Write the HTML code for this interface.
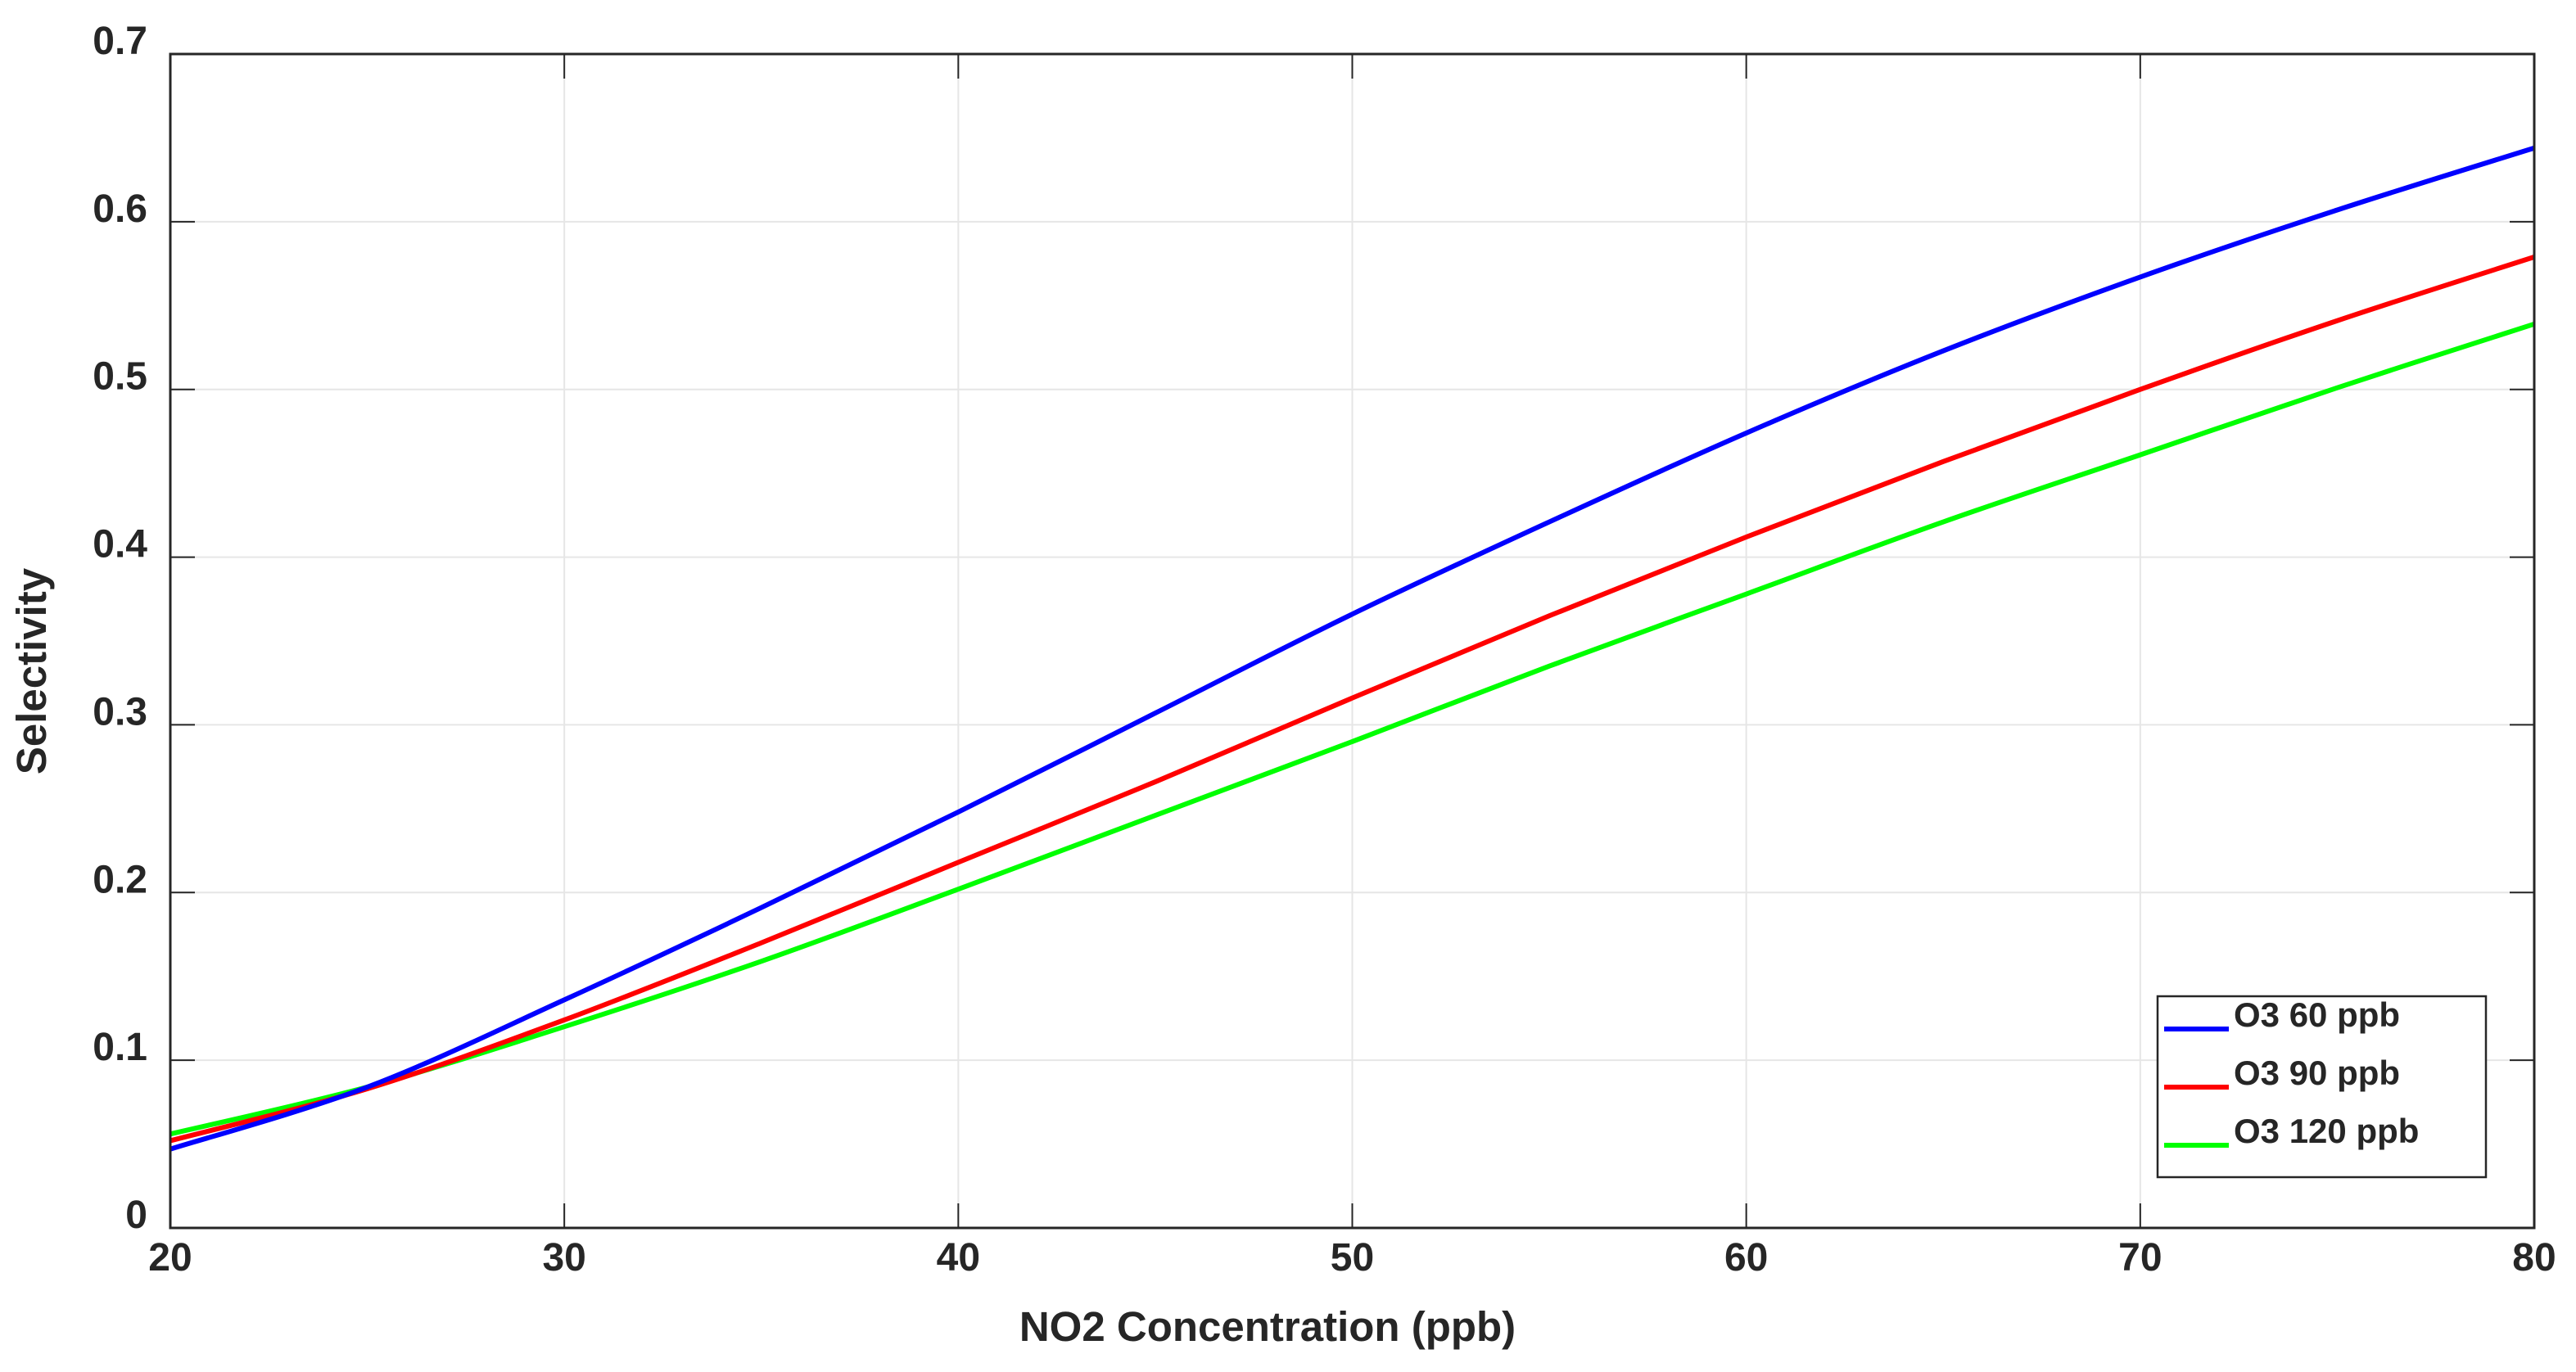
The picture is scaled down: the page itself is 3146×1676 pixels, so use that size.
<!DOCTYPE html>
<html><head><meta charset="utf-8">
<style>
html,body{margin:0;padding:0;background:#fff;}
svg{display:block;}
text{font-family:"Liberation Sans",Arial,sans-serif;font-weight:bold;fill:#262626;}
</style></head>
<body>
<svg id="chart" width="3146" height="1676" xmlns="http://www.w3.org/2000/svg">
<g id="grid"></g>
<g id="series"></g>
<g id="axes"></g>
<text x="1548" y="1638" font-size="51" text-anchor="middle">NO2 Concentration (ppb)</text>
<text transform="translate(56,820) rotate(-90)" font-size="51" text-anchor="middle">Selectivity</text>
<g id="legend"></g>
</svg>
<script>
const xValues = [20,25,30,35,40,45,50,55,60,65,70,75,80];
const blueValues = [0.047,0.084,0.136,0.191,0.248,0.307,0.366,0.421,0.474,0.523,0.567,0.607,0.644];
const redValues = [0.052,0.083,0.124,0.170,0.218,0.266,0.316,0.365,0.412,0.457,0.500,0.541,0.579];
const greenValues = [0.056,0.084,0.120,0.159,0.202,0.246,0.290,0.335,0.378,0.421,0.461,0.501,0.539];
const seriesNames = ["O3 60 ppb","O3 90 ppb","O3 120 ppb"];
const xTicks = [20,30,40,50,60,70,80];
const yTicks = [0,0.1,0.2,0.3,0.4,0.5,0.6,0.7];
const yTickLabels = ["0","0.1","0.2","0.3","0.4","0.5","0.6","0.7"];

const L=208,R=3095,T=66,B=1500;
const xMin=20,xMax=80,yMin=0,yMax=0.7;
const sx=v=>L+(v-xMin)/(xMax-xMin)*(R-L);
const sy=v=>B-(v-yMin)/(yMax-yMin)*(B-T);
const NS="http://www.w3.org/2000/svg";
function mk(tag,attrs,parent){const e=document.createElementNS(NS,tag);for(const k in attrs)e.setAttribute(k,attrs[k]);parent.appendChild(e);return e;}
const grid=document.getElementById('grid'),axes=document.getElementById('axes'),series=document.getElementById('series'),legend=document.getElementById('legend');

xTicks.forEach(v=>{
  const x=sx(v);
  const g=mk('line',{x1:x,x2:x,y1:T,y2:B,stroke:'#e6e6e6','stroke-width':2},grid);
  
  
  const t1=mk('line',{x1:x,x2:x,y1:B,y2:B-30,stroke:'#262626','stroke-width':2},axes);
  
  
  const t2=mk('line',{x1:x,x2:x,y1:T,y2:T+30,stroke:'#262626','stroke-width':2},axes);
  
  
  const lb=mk('text',{x:x,y:B+52,'font-size':48,'text-anchor':'middle'},axes);
  lb.textContent=String(v);
  
  
});
yTicks.forEach((v,i)=>{
  const y=sy(v);
  const g=mk('line',{x1:L,x2:R,y1:y,y2:y,stroke:'#e6e6e6','stroke-width':2},grid);
  
  
  const t1=mk('line',{x1:L,x2:L+30,y1:y,y2:y,stroke:'#262626','stroke-width':2},axes);
  
  
  const t2=mk('line',{x1:R,x2:R-30,y1:y,y2:y,stroke:'#262626','stroke-width':2},axes);
  
  
  const lb=mk('text',{x:180,y:y,'font-size':48,'text-anchor':'end'},axes);
  lb.textContent=yTickLabels[i];
  
  
});
const box=mk('rect',{x:L,y:T,width:R-L,height:B-T,fill:'none',stroke:'#262626','stroke-width':3},axes);



function smoothPath(xs,ys){
  const p=xs.map((x,i)=>[sx(x),sy(ys[i])]);
  let d=`M${p[0][0]},${p[0][1]}`;
  for(let i=0;i<p.length-1;i++){
    const p0=p[Math.max(0,i-1)],p1=p[i],p2=p[i+1],p3=p[Math.min(p.length-1,i+2)];
    const c1=[p1[0]+(p2[0]-p0[0])/6,p1[1]+(p2[1]-p0[1])/6];
    const c2=[p2[0]-(p3[0]-p1[0])/6,p2[1]-(p3[1]-p1[1])/6];
    d+=` C${c1[0]},${c1[1]} ${c2[0]},${c2[1]} ${p2[0]},${p2[1]}`;
  }
  return d;
}
const allSeries=[[blueValues,'#0000ff','line-o3-60'],[redValues,'#ff0000','line-o3-90'],[greenValues,'#00ff00','line-o3-120']];
[...allSeries].reverse().forEach(s=>{
  const path=mk('path',{d:smoothPath(xValues,s[0]),fill:'none',stroke:s[1],'stroke-width':6},series);
  
  
});

const lbox=mk('rect',{x:2635,y:1217,width:401,height:221,fill:'#fff',stroke:'#262626','stroke-width':2.5},legend);


allSeries.forEach((s,i)=>{
  const y=1257+i*71;
  const ln=mk('line',{x1:2643,x2:2722,y1:y,y2:y,stroke:s[1],'stroke-width':6},legend);
  
  
  const tx=mk('text',{x:2728,y:y-3,'font-size':42,fill:'#000'},legend);
  tx.textContent=seriesNames[i];
  
  
});
</script>
</body></html>
